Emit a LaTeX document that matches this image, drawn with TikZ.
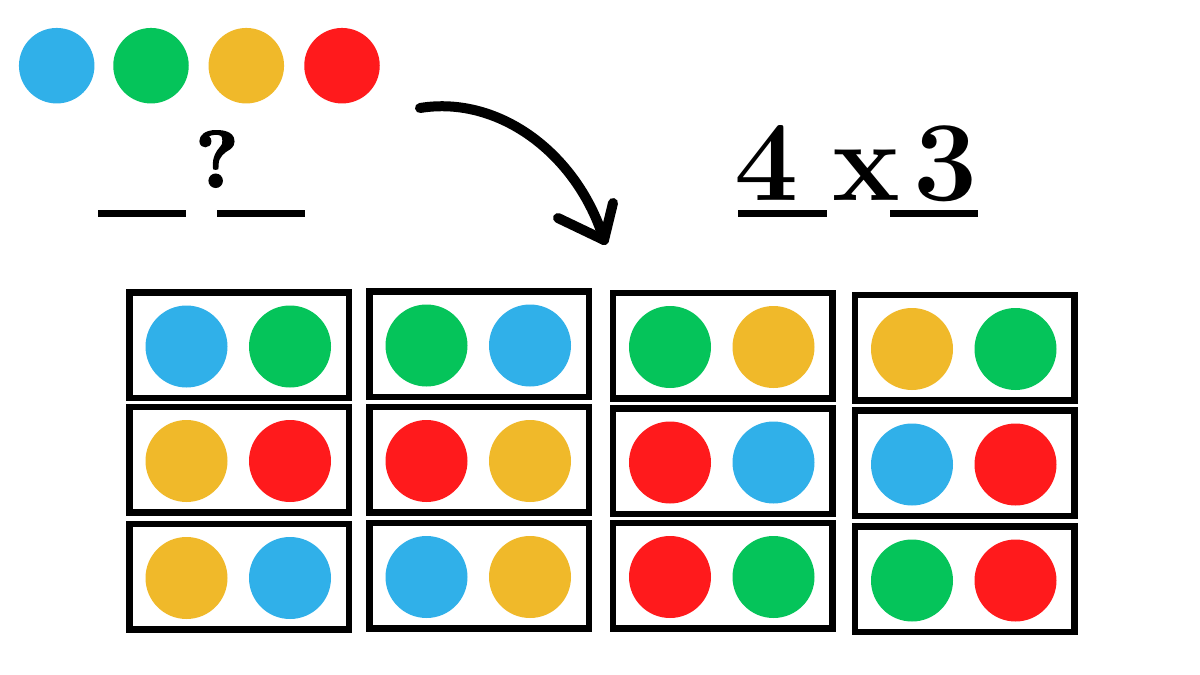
\documentclass[tikz,border=0pt]{standalone}
\usepackage{fontspec}
\newfontfamily\heavyq{lmroman10-bold.otf}[FakeBold=2.5]
\definecolor{cb}{HTML}{30B0E9}
\definecolor{cg}{HTML}{05C45A}
\definecolor{cy}{HTML}{F0B92A}
\definecolor{cr}{HTML}{FF1A1C}
\begin{document}
\begin{tikzpicture}[x=1pt,y=-1pt,
  card/.style={draw=black,line width=6.5pt,minimum width=219.5pt,minimum height=105.5pt,inner sep=0pt},
  disc/.style={circle,fill=#1,minimum size=82pt,inner sep=0pt},
  bigdisc/.style={circle,fill=#1,minimum size=75.5pt,inner sep=0pt},
  uline/.style={line width=6.5pt},
  brush/.style={line width=10pt,line cap=round},
  bigtxt/.style={anchor=base,inner sep=0pt,font=\fontsize{114}{114}\selectfont\bfseries},
  qtxt/.style={anchor=base,inner sep=0pt,font=\fontsize{80}{80}\selectfont\heavyq}]
\useasboundingbox (0,0) rectangle (1200,675);
\fill[white] (0,0) rectangle (1200,675);

% palette of colours
\node[bigdisc=cb] (p1) at (56.7,65.7) {};
\node[bigdisc=cg] (p2) at (151,65.7) {};
\node[bigdisc=cy] (p3) at (246.3,65.7) {};
\node[bigdisc=cr] (p4) at (342,65.7) {};

% question with blanks
\node[qtxt] (q) at (217,187) {?};
\coordinate (qa1) at (98,213.5);
\coordinate (qa2) at (186,213.5);
\coordinate (qb1) at (217,213.5);
\coordinate (qb2) at (305,213.5);
\draw[uline] (qa1) -- (qa2);
\draw[uline] (qb1) -- (qb2);

% 4 x 3
\node[bigtxt] (four) at (767,200) {4};
\node[bigtxt] (times) at (866,200) {x};
\node[bigtxt] (three) at (946,200) {3};
\coordinate (ua1) at (738,213.5);
\coordinate (ua2) at (827,213.5);
\coordinate (ub1) at (890,213.5);
\coordinate (ub2) at (978,213.5);
\draw[uline] (ua1) -- (ua2);
\draw[uline] (ub1) -- (ub2);

% arrow
\coordinate (as) at (420,108);
\coordinate (ae) at (604,240);
\coordinate (hl) at (558,218);
\coordinate (hr) at (613,203);
\draw[brush] (as) .. controls (500,95) and (578,155) .. (ae);
\draw[brush] (hl) -- (ae);
\draw[brush] (hr) -- (ae);

% cards
\foreach \n/\x/\y/\a/\b in {
  11/239/345/cb/cg, 12/239/459.5/cy/cr, 13/239/576.5/cy/cb,
  21/479/344/cg/cb, 22/479/459.5/cr/cy, 23/479/575.5/cb/cy,
  31/722.5/345.5/cg/cy, 32/722.5/461/cr/cb, 33/722.5/575.5/cr/cg,
  41/964.5/347.5/cy/cg, 42/964.5/463/cb/cr, 43/964.5/579/cg/cr}{
  \node[card] (box\n) at (\x,\y) {};
  \node[disc=\a] (l\n) at (\x-52.5,\y+1.5) {};
  \node[disc=\b] (r\n) at (\x+51,\y+1.5) {};
}
\end{tikzpicture}
\end{document}
